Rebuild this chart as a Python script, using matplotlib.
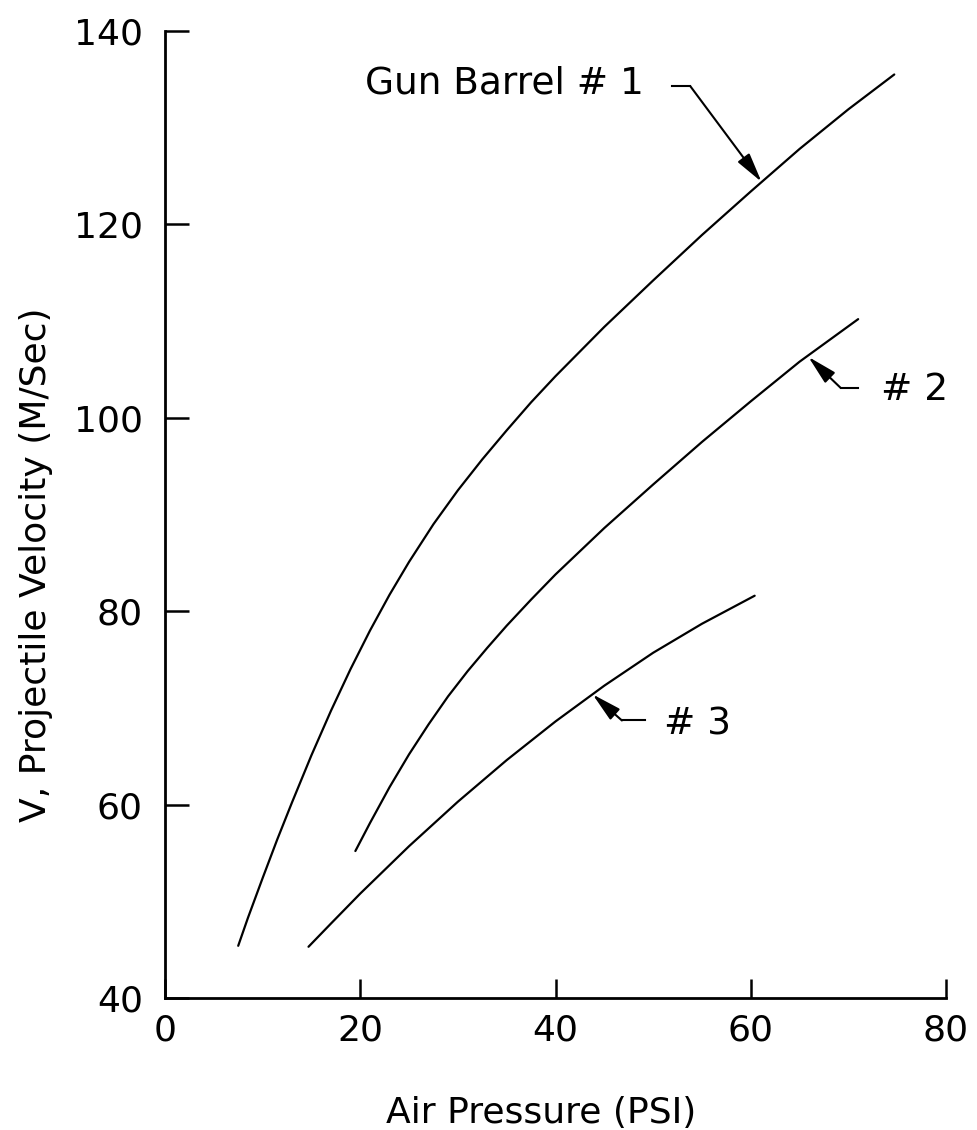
import numpy as np
import matplotlib.pyplot as plt

plt.rcParams['font.family'] = ['DejaVu Sans']

# values
pressure_1 = [7.5, 8.5, 10, 11.5, 13, 15, 17, 19, 21, 23, 25, 27.5, 30, 32.5, 35, 37.5, 40,
              45, 50, 55, 60, 65, 70, 74.7]
velocity_1 = [45.4, 48.3, 52.4, 56.4, 60.2, 65.1, 69.7, 74.0, 78.0, 81.7, 85.1, 89.0, 92.5,
              95.7, 98.7, 101.6, 104.3, 109.4, 114.2, 118.9, 123.4, 127.8, 131.9, 135.5]

pressure_2 = [19.5, 21, 23, 25, 27, 29, 31, 33, 35, 37.5, 40, 45, 50, 55, 60, 65, 71]
velocity_2 = [55.2, 58.1, 61.8, 65.2, 68.3, 71.2, 73.8, 76.2, 78.5, 81.2, 83.8, 88.6, 93.1,
              97.5, 101.7, 105.8, 110.2]

pressure_3 = [14.7, 17, 20, 25, 30, 35, 40, 45, 50, 55, 60.4]
velocity_3 = [45.3, 47.7, 50.8, 55.7, 60.3, 64.6, 68.6, 72.3, 75.7, 78.7, 81.6]

x_ticks = [0, 20, 40, 60, 80]
y_ticks = [40, 60, 80, 100, 120, 140]

# curve labels: text, text anchor, leader start, elbow, arrow tip
labels = ['Gun Barrel # 1', '# 2', '# 3']
label_pos = [(20.5, 134.6), (73.3, 102.9), (51.1, 68.3)]
leader_start = [(51.9, 134.3), (71.0, 103.1), (49.2, 68.7)]
leader_elbow = [(53.8, 134.3), (69.2, 103.1), (46.8, 68.7)]
arrow_tip = [(61.1, 124.4), (65.9, 106.3), (43.8, 71.4)]


def leader_label(ax, text, pos, start, elbow, tip):
    ax.text(pos[0], pos[1], text, ha='left', va='center', fontsize=27)
    ax.plot([start[0], elbow[0]], [start[1], elbow[1]], color='black', lw=1.5)
    ax.annotate('', xy=tip, xytext=elbow,
                arrowprops=dict(arrowstyle='-|>,head_length=0.9,head_width=0.22',
                                color='black', lw=1.5, shrinkA=0, shrinkB=0,
                                mutation_scale=20))


fig = plt.figure(figsize=(9.78, 11.3), dpi=100)
ax = fig.add_axes([0.1687, 0.1168, 0.7986, 0.8558])

for px, vy in [(pressure_1, velocity_1), (pressure_2, velocity_2), (pressure_3, velocity_3)]:
    ax.plot(px, vy, color='black', lw=1.6, solid_capstyle='round', solid_joinstyle='round')

for i in range(len(labels)):
    leader_label(ax, labels[i], label_pos[i], leader_start[i], leader_elbow[i], arrow_tip[i])

ax.set_xlim(0, 80)
ax.set_ylim(40, 140)
ax.set_xticks(x_ticks)
ax.set_yticks(y_ticks)

ax.spines['top'].set_visible(False)
ax.spines['right'].set_visible(False)
ax.spines['left'].set_linewidth(2)
ax.spines['bottom'].set_linewidth(2)

ax.tick_params(axis='y', direction='in', length=17, width=1.8, pad=16, labelsize=26)
ax.tick_params(axis='x', direction='in', length=14, width=1.8, pad=11, labelsize=26)

ax.set_xlabel('Air Pressure (PSI)', fontsize=26)
ax.set_ylabel('V, Projectile Velocity (M/Sec)', fontsize=26)
ax.xaxis.set_label_coords(0.482, -0.101)
ax.yaxis.set_label_coords(-0.143, 0.448)

plt.savefig('out.png', dpi=100)
